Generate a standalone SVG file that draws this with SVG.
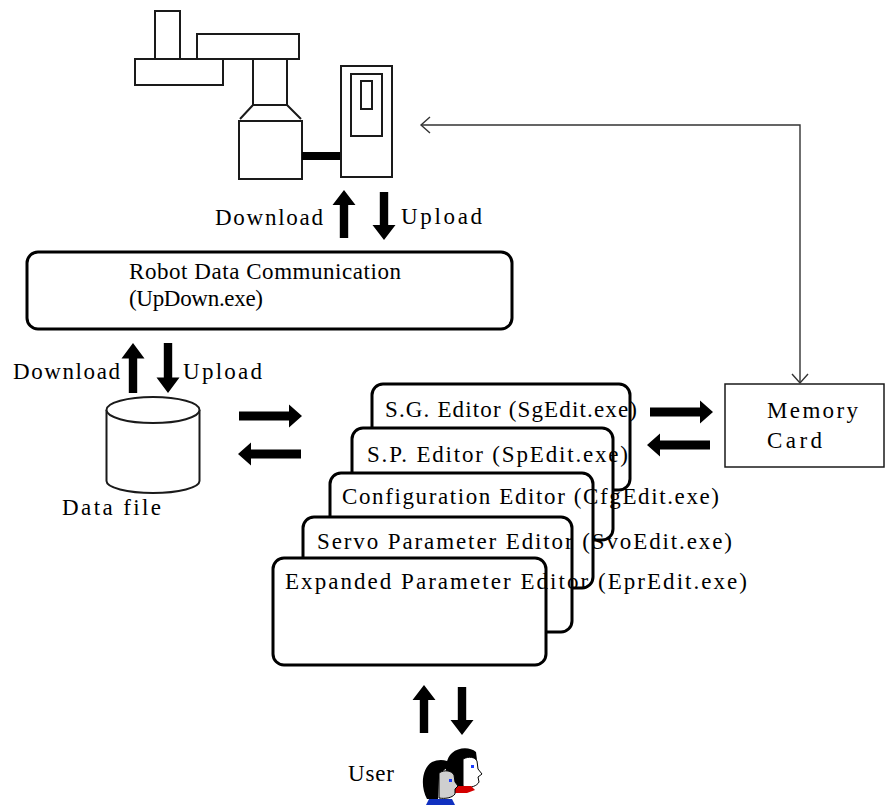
<svg xmlns="http://www.w3.org/2000/svg" width="885" height="805" viewBox="0 0 885 805">
  <style>
    text { font-family: "Liberation Serif", "Times New Roman", serif; font-size: 23px; fill: #000; }
    .line2 { fill: #fff; stroke: #1a1a1a; stroke-width: 2; }
    .box { fill: #fff; stroke: #000; stroke-width: 3; }
    .thin { fill: #fff; stroke: #1a1a1a; stroke-width: 1.5; }
    .blk { fill: #000; }
    .link { fill: none; stroke: #333; stroke-width: 1.4; }
  </style>
  <defs>
    <!-- block arrow, tip at origin, pointing up -->
    <path id="arrowUp" d="M0,0 L11.5,15 L4.2,15 L4.2,48 L-4.2,48 L-4.2,15 L-11.5,15 Z"/>
    <!-- block arrow, tip at origin, pointing right -->
    <path id="arrowRight" d="M0,0 L-13,-11.5 L-13,-4.5 L-63,-4.5 L-63,4.5 L-13,4.5 L-13,11.5 Z"/>
    <marker id="chevron" viewBox="-10 -10 12 20" refX="0" refY="0" markerWidth="12" markerHeight="20" markerUnits="userSpaceOnUse" orient="auto-start-reverse">
      <path d="M-9,-8 L0,0 L-9,8" fill="none" stroke="#333" stroke-width="1.4"/>
    </marker>
  </defs>

  <!-- SCARA robot arm and controller -->
  <g id="robot">
    <rect class="line2" x="155" y="11" width="25" height="48"/>
    <rect class="line2" x="197" y="34" width="102" height="25"/>
    <rect class="line2" x="135" y="59" width="88" height="26"/>
    <rect class="line2" x="253" y="59" width="34" height="46"/>
    <path d="M253,105 L240,119 M287,105 L301,119" fill="none" stroke="#1a1a1a" stroke-width="2"/>
    <rect class="line2" x="239" y="121" width="63" height="58"/>
    <rect class="blk" x="302" y="152" width="39" height="8"/>
  </g>
  <g id="controller">
    <rect class="line2" x="341" y="66" width="51" height="111"/>
    <rect class="line2" x="351" y="74" width="31" height="62"/>
    <rect class="line2" x="361" y="81" width="11" height="28"/>
  </g>

  <!-- communication program -->
  <g id="updown">
    <rect class="box" x="27" y="252" width="485" height="77" rx="11"/>
    <text x="129" y="279" textLength="272" lengthAdjust="spacing">Robot Data Communication</text>
    <text x="129" y="306" textLength="134" lengthAdjust="spacing">(UpDown.exe)</text>
  </g>

  <!-- data file cylinder -->
  <g id="datafile">
    <path class="line2" d="M106.5,410 L106.5,481 A46.5,12 0 0 0 199.5,481 L199.5,410"/>
    <ellipse class="line2" cx="153" cy="410" rx="46.5" ry="13"/>
    <text x="62" y="515" textLength="99" lengthAdjust="spacing">Data file</text>
  </g>

  <!-- editor stack, back to front -->
  <g id="sgedit">
    <rect class="box" x="372" y="384" width="258" height="106" rx="11"/>
    <text x="385" y="417" textLength="252" lengthAdjust="spacing">S.G. Editor (SgEdit.exe)</text>
  </g>
  <g id="spedit">
    <rect class="box" x="352" y="428" width="261" height="112" rx="11"/>
    <text x="367" y="462" textLength="261" lengthAdjust="spacing">S.P. Editor (SpEdit.exe)</text>
  </g>
  <g id="cfgedit">
    <rect class="box" x="330" y="473" width="263" height="115" rx="11"/>
    <text x="342" y="504" textLength="377" lengthAdjust="spacing">Configuration Editor (CfgEdit.exe)</text>
  </g>
  <g id="svoedit">
    <rect class="box" x="303" y="517" width="269" height="115" rx="11"/>
    <text x="317" y="549" textLength="415" lengthAdjust="spacing">Servo Parameter Editor (SvoEdit.exe)</text>
  </g>
  <g id="epredit">
    <rect class="box" x="273" y="558" width="273" height="107" rx="11"/>
    <text x="285" y="589" textLength="462" lengthAdjust="spacing">Expanded Parameter Editor (EprEdit.exe)</text>
  </g>

  <!-- memory card -->
  <g id="memorycard">
    <rect class="thin" x="725" y="384" width="159" height="83"/>
    <text x="767" y="418" textLength="91" lengthAdjust="spacing">Memory</text>
    <text x="767" y="448" textLength="55" lengthAdjust="spacing">Card</text>
  </g>

  <!-- user icon -->
  <g id="user">
    <text x="348" y="781" textLength="46" lengthAdjust="spacing">User</text>
    <path d="M451,790 C444,780 444,759 452,753 C459,747 470,747 476,752 L477,760 C471,758 466,760 464,766 L463,786 Z" fill="#000"/>
    <path d="M463,759 C469,756 475,757 477,761 L478,769 L482,774 L478,777 L479,782 C477,786 471,788 465,787 L463,786 Z" fill="#fff" stroke="#000" stroke-width="1"/>
    <rect x="471" y="765" width="3" height="3" fill="#1a3cff"/>
    <path d="M453,786 L471,786 L475,790 L467,793 L455,793 Z" fill="#d40000"/>
    <path d="M427,799 C420,786 422,768 432,762 C440,758 450,760 453,766 C447,767 441,771 439,778 L438,799 Z" fill="#000"/>
    <path d="M439,773 C445,769 452,771 454,775 L455,782 L458,786 L455,789 L455,794 C452,798 445,799 439,798 Z" fill="#cfcfcf" stroke="#000" stroke-width="1"/>
    <rect x="449" y="779" width="3" height="3" fill="#1a3cff"/>
    <path d="M429,799 L452,799 L455,805 L426,805 Z" fill="#1030c0"/>
  </g>

  <!-- connectors -->
  <g id="connectors">
    <!-- controller <-> communication program -->
    <use href="#arrowUp" x="344" y="190"/>
    <use href="#arrowUp" transform="translate(384,240) rotate(180)"/>
    <text x="215" y="225" textLength="108" lengthAdjust="spacing">Download</text>
    <text x="401" y="224" textLength="81" lengthAdjust="spacing">Upload</text>

    <!-- communication program <-> data file -->
    <use href="#arrowUp" transform="translate(133,343) scale(1,1.04)"/>
    <use href="#arrowUp" transform="translate(168,393) rotate(180) scale(1,1.04)"/>
    <text x="13" y="379" textLength="107" lengthAdjust="spacing">Download</text>
    <text x="183" y="379" textLength="79" lengthAdjust="spacing">Upload</text>

    <!-- data file <-> editors -->
    <use href="#arrowRight" x="302" y="416"/>
    <use href="#arrowRight" transform="translate(238,454) rotate(180)"/>

    <!-- editors <-> memory card -->
    <use href="#arrowRight" x="713" y="412"/>
    <use href="#arrowRight" transform="translate(647,445) rotate(180)"/>

    <!-- memory card <-> controller -->
    <path class="link" d="M421,125 L800,125 L800,383" marker-start="url(#chevron)" marker-end="url(#chevron)"/>

    <!-- editors <-> user -->
    <use href="#arrowUp" x="424" y="685"/>
    <use href="#arrowUp" transform="translate(462,735) rotate(180)"/>
  </g>
</svg>
